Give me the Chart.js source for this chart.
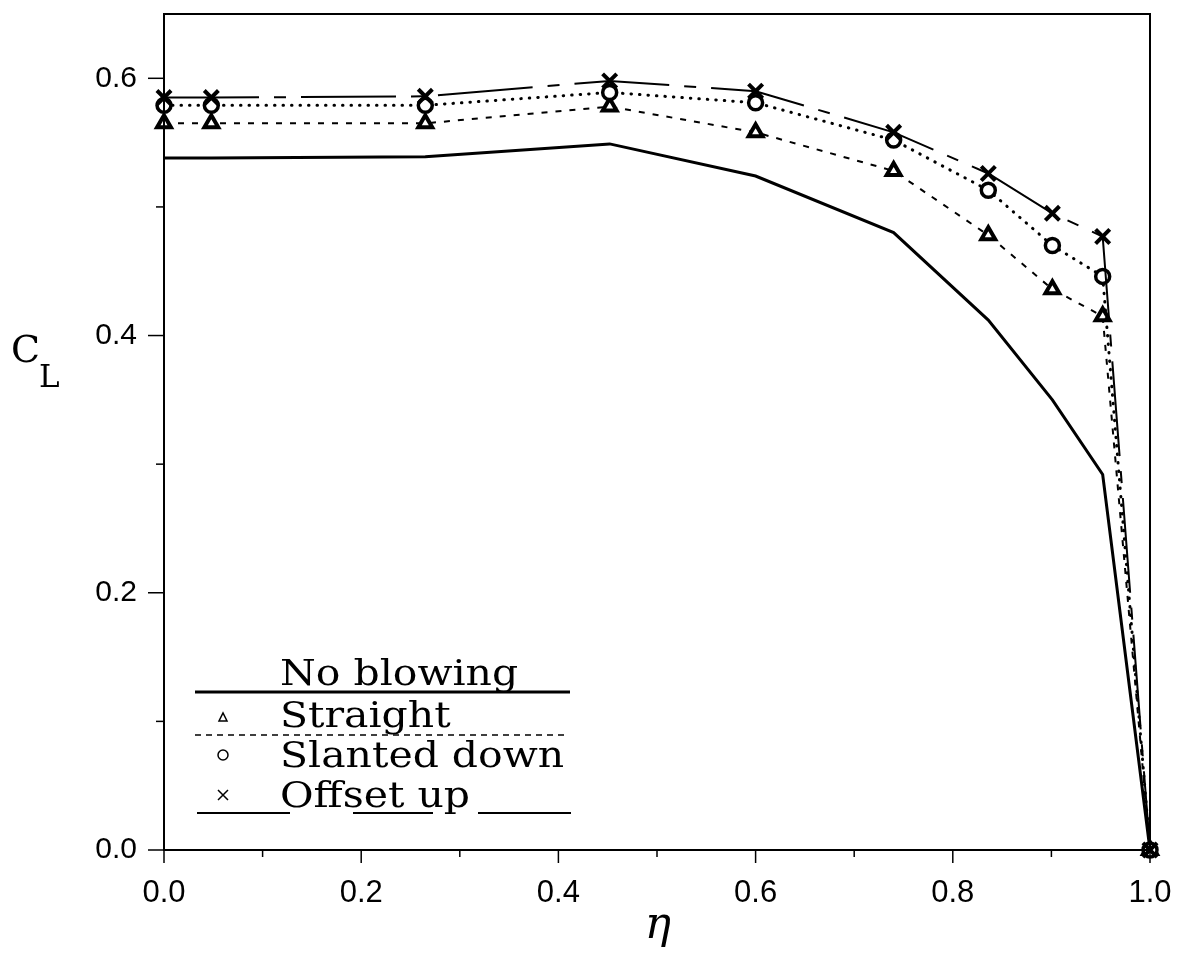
<!DOCTYPE html>
<html>
<head>
<meta charset="utf-8">
<script src="https://cdn.jsdelivr.net/npm/chart.js@4/dist/chart.umd.min.js"></script>
<style>
  html, body { margin: 0; padding: 0; background: #fff; }
  #wrap { width: 1188px; height: 956px; }
</style>
</head>
<body>
<div id="wrap"><canvas id="clChart" width="1188" height="956"></canvas></div>
<script>
// spanwise station and lift coefficient for each blowing case
const eta = [0.0, 0.048, 0.265, 0.452, 0.600, 0.740, 0.836, 0.901, 0.952, 1.0];
const noBlowing = [0.538, 0.538, 0.539, 0.549, 0.524, 0.480, 0.412, 0.350, 0.292, 0.0];
const straight = [0.565, 0.565, 0.565, 0.578, 0.558, 0.528, 0.478, 0.436, 0.415, 0.0];
const slantedDown = [0.579, 0.579, 0.579, 0.589, 0.581, 0.552, 0.513, 0.470, 0.446, 0.0];
const offsetUp = [0.585, 0.585, 0.586, 0.598, 0.590, 0.558, 0.526, 0.495, 0.477, 0.0];

const xTicks = [0.0, 0.2, 0.4, 0.6, 0.8, 1.0];
const yTicks = [0.0, 0.2, 0.4, 0.6];
const legendLabels = ["No blowing", "Straight", "Slanted down", "Offset up"];

function pts(ys) {
    return eta.map(function (x, i) { return { x: x, y: ys[i] }; });
}

function isMajor(v, list) {
    return list.some(function (t) { return Math.abs(t - v) < 1e-6; });
}

const serif = "'DejaVu Serif', serif";

const decorations = {
    id: "decorations",
    afterDraw(chart) {
        const ctx = chart.ctx;
        const area = chart.chartArea;
        const xs = chart.scales.x;
        const ys = chart.scales.y;
        ctx.save();
        ctx.strokeStyle = "#000";
        ctx.fillStyle = "#000";

        // frame
        ctx.lineWidth = 2;
        ctx.strokeRect(area.left, area.top, area.right - area.left, area.bottom - area.top);

        // y ticks (outside, left)
        ctx.lineWidth = 1.5;
        for (let v = 0; v <= 0.6001; v += 0.1) {
            const py = ys.getPixelForValue(v);
            const len = isMajor(v, yTicks) ? 16 : 8;
            ctx.beginPath();
            ctx.moveTo(area.left - len, py);
            ctx.lineTo(area.left, py);
            ctx.stroke();
        }
        // x ticks (below the axis)
        for (let v = 0; v <= 1.0001; v += 0.1) {
            const px = xs.getPixelForValue(v);
            const len = isMajor(v, xTicks) ? 13 : 7;
            ctx.beginPath();
            ctx.moveTo(px, area.bottom);
            ctx.lineTo(px, area.bottom + len);
            ctx.stroke();
        }

        // axis titles
        ctx.textBaseline = "alphabetic";
        ctx.textAlign = "left";
        ctx.font = "38px " + serif;
        ctx.fillText("C", 11, 362);
        ctx.font = "31px " + serif;
        ctx.fillText("L", 39, 387);
        ctx.textAlign = "center";
        ctx.font = "italic 44px " + serif;
        ctx.fillText("\u03B7", 658, 938);

        // legend
        ctx.textAlign = "left";
        ctx.font = "35px " + serif;
        const textX = 280;
        const baselines = [685, 727, 767, 807];
        legendLabels.forEach(function (lab, i) {
            ctx.save();
            ctx.translate(textX, baselines[i]);
            ctx.scale(1.17, 1);
            ctx.fillText(lab, 0, 0);
            ctx.restore();
        });

        // legend lines
        ctx.lineWidth = 3;
        ctx.setLineDash([]);
        ctx.beginPath(); ctx.moveTo(195, 692); ctx.lineTo(570, 692); ctx.stroke();
        ctx.lineWidth = 1.5;
        ctx.setLineDash([6, 5]);
        ctx.beginPath(); ctx.moveTo(195, 735); ctx.lineTo(568, 735); ctx.stroke();
        ctx.lineWidth = 2;
        ctx.setLineDash([93, 63, 80, 45]);
        ctx.beginPath(); ctx.moveTo(197, 813); ctx.lineTo(571, 813); ctx.stroke();
        ctx.setLineDash([]);

        // legend symbols
        ctx.lineWidth = 1.5;
        ctx.beginPath();
        ctx.moveTo(219, 721); ctx.lineTo(227, 721); ctx.lineTo(223, 713); ctx.closePath();
        ctx.stroke();
        ctx.beginPath();
        ctx.arc(223, 755, 5, 0, Math.PI * 2);
        ctx.stroke();
        ctx.beginPath();
        ctx.moveTo(218, 790); ctx.lineTo(228, 800);
        ctx.moveTo(228, 790); ctx.lineTo(218, 800);
        ctx.stroke();

        ctx.restore();
    },
};

document.addEventListener("DOMContentLoaded", function () {
    const clChart = new Chart(document.getElementById("clChart"), {
        type: "line",
        data: {
            datasets: [
                {
                    label: legendLabels[3],
                    data: pts(offsetUp),
                    borderColor: "#000",
                    borderWidth: 2,
                    borderDash: [95, 15, 12, 15],
                    pointStyle: "crossRot",
                    pointRadius: 10,
                    pointBorderWidth: 4,
                    pointBorderColor: "#000",
                    clip: false,
                },
                {
                    label: legendLabels[2],
                    data: pts(slantedDown),
                    borderColor: "#000",
                    borderWidth: 3,
                    borderDash: [0.5, 8],
                    borderCapStyle: "round",
                    pointStyle: "circle",
                    pointRadius: 7,
                    pointBorderWidth: 3.5,
                    pointBorderColor: "#000",
                    pointBackgroundColor: "#fff",
                    clip: false,
                },
                {
                    label: legendLabels[1],
                    data: pts(straight),
                    borderColor: "#000",
                    borderWidth: 2,
                    borderDash: [6, 8],
                    pointStyle: "triangle",
                    pointRadius: 8,
                    pointBorderWidth: 4,
                    pointBorderColor: "#000",
                    pointBackgroundColor: "#fff",
                    clip: false,
                },
                {
                    label: legendLabels[0],
                    data: pts(noBlowing),
                    borderColor: "#000",
                    borderWidth: 3,
                    pointRadius: 0,
                    clip: false,
                },
            ],
        },
        options: {
            responsive: false,
            animation: false,
            layout: { padding: { left: 0, top: 10, right: 38, bottom: 0 } },
            plugins: { legend: { display: false }, tooltip: { enabled: false } },
            elements: { line: { tension: 0 } },
            scales: {
                x: {
                    type: "linear",
                    min: 0,
                    max: 1,
                    afterFit: function (scale) {
                        scale.height = 106;
                        scale.paddingLeft = 0;
                        scale.paddingRight = 0;
                    },
                    grid: { display: false, drawTicks: false },
                    border: { display: false },
                    ticks: {
                        stepSize: 0.2,
                        padding: 25,
                        color: "#000",
                        maxRotation: 0,
                        font: { family: "'Liberation Sans', Arial, sans-serif", size: 31 },
                        callback: function (v) { return isMajor(v, xTicks) ? v.toFixed(1) : ""; },
                    },
                },
                y: {
                    min: 0,
                    max: 0.65,
                    afterFit: function (scale) {
                        scale.width = 164;
                        scale.paddingTop = 0;
                        scale.paddingBottom = 0;
                    },
                    grid: { display: false, drawTicks: false },
                    border: { display: false },
                    ticks: {
                        stepSize: 0.2,
                        padding: 27,
                        color: "#000",
                        font: { family: "'Liberation Sans', Arial, sans-serif", size: 30 },
                        callback: function (v) { return isMajor(v, yTicks) ? v.toFixed(1) : ""; },
                    },
                },
            },
        },
        plugins: [decorations],
    });
});
</script>
</body>
</html>
